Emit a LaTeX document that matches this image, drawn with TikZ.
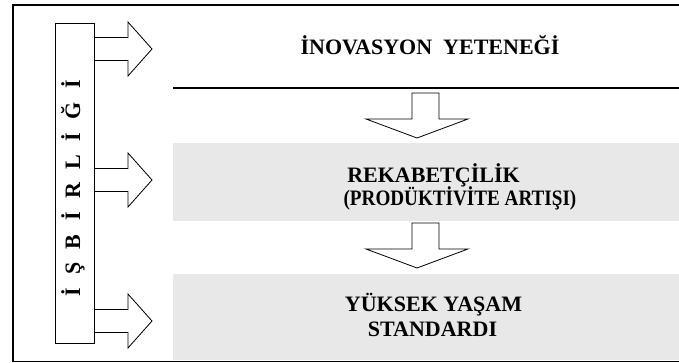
\documentclass[tikz,border=0pt]{standalone}
\usepackage{fontspec}
\setmainfont{Liberation Serif}
\newfontfamily\narrowserif[FakeStretch=0.87]{Liberation Serif}
\definecolor{bandgray}{gray}{0.91}
\tikzset{
  caption text/.style={font=\bfseries\fontsize{22}{26}\selectfont, inner sep=0pt, anchor=base},
  block arrow/.style={draw, line width=0.8pt, line join=miter},
  gray band/.style={fill=bandgray, anchor=north west, inner sep=0pt, minimum width=520pt, minimum height=#1},
}
\begin{document}
\begin{tikzpicture}[x=1pt, y=-1pt]
\useasboundingbox (0,0) rectangle (679,363);
% frame, open to the right
\draw[line width=1.2pt] (690,5) -- (13,5) -- (13,361.5) -- (690,361.5);

\node[gray band=78pt] (rekabet band) at (173,143) {};
\node[gray band=86pt] (yuksek band) at (173,274) {};
\draw[line width=2.5pt] (173,88) -- (690,88);

\foreach \c in {49, 180, 321} {
  \draw[block arrow] (94,\c-11.5) -- (128,\c-11.5) -- (128,\c-27) -- (152,\c)
    -- (128,\c+27) -- (128,\c+11.5) -- (94,\c+11.5);
}
\node[draw, line width=0.8pt, inner sep=0pt, minimum width=39pt, minimum height=320pt] (bar) at (74.5,183) {};
\node[caption text, rotate=90] (isbirligi) at (80,188.5)
  {İ\hspace{13.5pt}Ş\hspace{13.5pt}B\hspace{13.5pt}İ\hspace{13.5pt}R\hspace{13.5pt}L\hspace{13.5pt}İ\hspace{13.5pt}Ğ\hspace{13.5pt}İ};

\foreach \t in {93, 223} {
  \draw[block arrow] (412,\t) -- (412,\t+26) -- (366,\t+26) -- (417,\t+45)
    -- (468,\t+26) -- (439,\t+26) -- (439,\t) -- cycle;
}

\node[caption text] (yetenek) at (430,55) {İNOVASYON\ \ YETENEĞİ};
\node[caption text] (rekabet) at (433.5,182.5) {REKABETÇİLİK};
\node[caption text, font=\narrowserif\bfseries\fontsize{22}{26}\selectfont] (produktivite) at (460,205.5) {(PRODÜKTİVİTE ARTIŞI)};
\node[caption text] (yuksek) at (433.5,311.5) {YÜKSEK YAŞAM};
\node[caption text] (standart) at (432.5,336.5) {STANDARDI};
\end{tikzpicture}
\end{document}
